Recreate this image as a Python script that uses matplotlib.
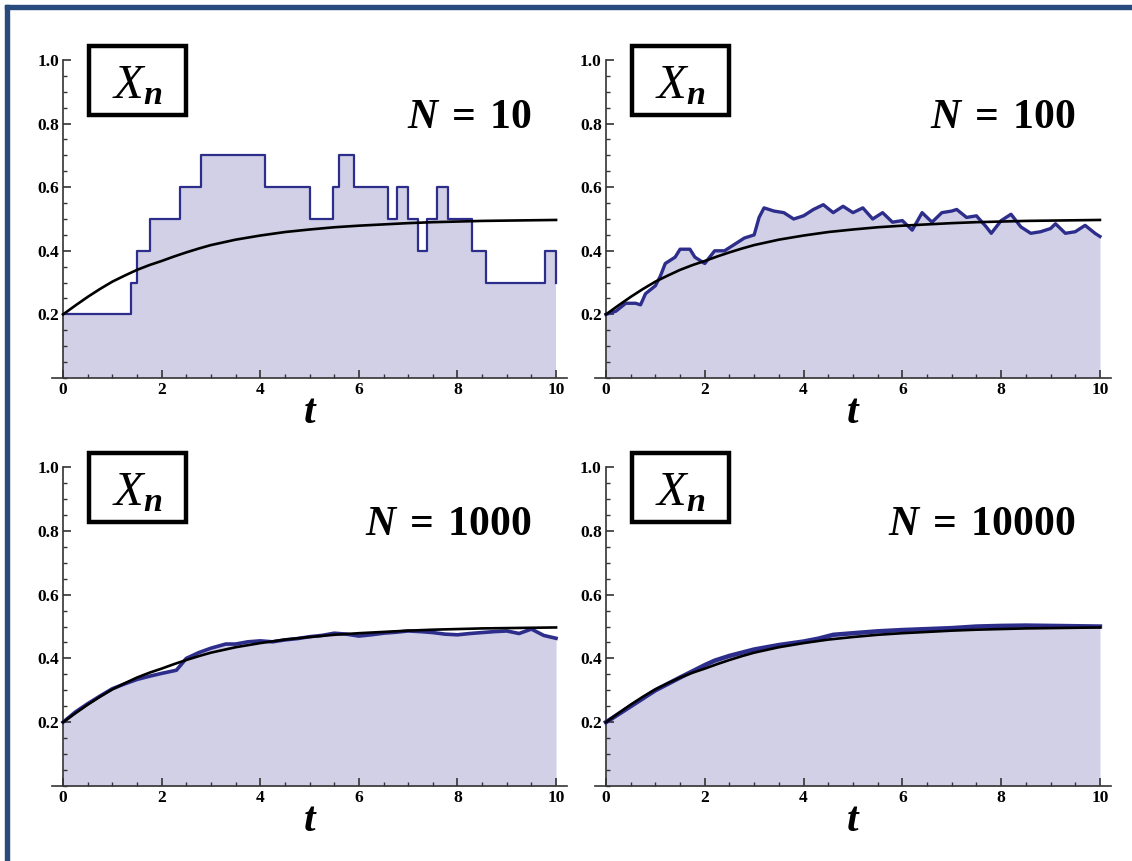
import matplotlib
matplotlib.use('Agg')
import matplotlib.pyplot as plt
import matplotlib.patches as patches
from matplotlib.ticker import MultipleLocator, FixedLocator

plt.rcParams['mathtext.fontset'] = 'custom'
plt.rcParams['mathtext.rm'] = 'Liberation Serif:bold'
plt.rcParams['mathtext.it'] = 'Liberation Serif:italic'
plt.rcParams['mathtext.bf'] = 'Liberation Serif:bold'
plt.rcParams['mathtext.bfit'] = 'Liberation Serif:bold:italic'

# smooth mean curve
curve_t = [0, 0.25, 0.5, 0.75, 1.0, 1.25, 1.5, 1.75, 2.0, 2.25, 2.5, 2.75, 3.0,
           3.5, 4.0, 4.5, 5.0, 5.5, 6.0, 6.5, 7.0, 7.5, 8.0, 8.5, 9.0, 9.5, 10.0]
curve_x = [0.200, 0.228, 0.255, 0.280, 0.303, 0.322, 0.340, 0.355, 0.368, 0.382,
           0.395, 0.407, 0.418, 0.435, 0.448, 0.459, 0.467, 0.474, 0.479, 0.483,
           0.487, 0.490, 0.492, 0.494, 0.495, 0.496, 0.497]

# N = 10: jump times and levels
t10 = [0, 1.38, 1.49, 1.77, 2.38, 2.79, 4.10, 5.00, 5.48, 5.59, 5.90, 6.59,
       6.78, 7.00, 7.20, 7.39, 7.58, 7.80, 8.30, 8.58, 9.78, 10.0]
x10 = [0.2, 0.3, 0.4, 0.5, 0.6, 0.7, 0.6, 0.5, 0.6, 0.7, 0.6, 0.5,
       0.6, 0.5, 0.4, 0.5, 0.6, 0.5, 0.4, 0.3, 0.4, 0.3]

# N = 100
t100 = [0, 0.2, 0.4, 0.6, 0.7, 0.8, 1.0, 1.1, 1.2, 1.4, 1.5, 1.7, 1.8, 2.0,
        2.2, 2.4, 2.6, 2.8, 3.0, 3.1, 3.2, 3.4, 3.6, 3.8, 4.0, 4.2, 4.4, 4.6,
        4.8, 5.0, 5.2, 5.4, 5.6, 5.8, 6.0, 6.2, 6.4, 6.6, 6.8, 7.0, 7.1, 7.3,
        7.5, 7.7, 7.8, 8.0, 8.2, 8.4, 8.6, 8.8, 9.0, 9.1, 9.3, 9.5, 9.7, 9.9, 10.0]
x100 = [0.20, 0.21, 0.235, 0.235, 0.23, 0.265, 0.29, 0.32, 0.36, 0.38, 0.405,
        0.405, 0.38, 0.36, 0.40, 0.40, 0.42, 0.44, 0.45, 0.505, 0.535, 0.525,
        0.52, 0.50, 0.51, 0.53, 0.545, 0.52, 0.54, 0.52, 0.535, 0.50, 0.52,
        0.49, 0.495, 0.465, 0.52, 0.49, 0.52, 0.525, 0.53, 0.505, 0.51, 0.475,
        0.455, 0.495, 0.515, 0.475, 0.455, 0.46, 0.47, 0.485, 0.455, 0.46,
        0.48, 0.455, 0.445]

# N = 1000
t1000 = [0, 0.25, 0.5, 0.75, 1.0, 1.25, 1.5, 1.75, 2.0, 2.3, 2.5, 2.75, 3.0,
         3.3, 3.5, 3.75, 4.0, 4.25, 4.5, 4.75, 5.0, 5.25, 5.5, 5.75, 6.0, 6.25,
         6.5, 6.75, 7.0, 7.25, 7.5, 7.75, 8.0, 8.25, 8.5, 8.75, 9.0, 9.25, 9.5,
         9.75, 10.0]
x1000 = [0.200, 0.232, 0.258, 0.282, 0.305, 0.320, 0.334, 0.344, 0.353, 0.363,
         0.400, 0.418, 0.432, 0.445, 0.445, 0.452, 0.455, 0.452, 0.458, 0.462,
         0.468, 0.472, 0.479, 0.476, 0.470, 0.474, 0.479, 0.482, 0.486, 0.484,
         0.481, 0.476, 0.474, 0.478, 0.481, 0.484, 0.486, 0.478, 0.492, 0.472,
         0.463]

# N = 10000
t10000 = [0, 0.5, 1.0, 1.5, 2.0, 2.2, 2.5, 3.0, 3.5, 4.0, 4.3, 4.6, 5.0, 5.5,
          6.0, 6.5, 7.0, 7.5, 8.0, 8.5, 9.0, 9.5, 10.0]
x10000 = [0.200, 0.250, 0.300, 0.340, 0.379, 0.393, 0.408, 0.428, 0.442, 0.453,
          0.462, 0.474, 0.479, 0.485, 0.489, 0.492, 0.495, 0.500, 0.502, 0.503,
          0.502, 0.501, 0.500]

labels = [r'$\mathbfit{N}\;=\;10$', r'$\mathbfit{N}\;=\;100$',
          r'$\mathbfit{N}\;=\;1000$', r'$\mathbfit{N}\;=\;10000$']

fill_color = '#d1d0e6'
line_color = '#2d2d8c'
axis_color = '#333333'


def draw_panel(ax, t, x, label, step, lw):
    if step:
        ax.fill_between(t, 0, x, step='post', color=fill_color, lw=0)
        ax.plot(t, x, drawstyle='steps-post', color=line_color, lw=lw,
                zorder=3)
    else:
        ax.fill_between(t, 0, x, color=fill_color, lw=0)
        ax.plot(t, x, color=line_color, lw=lw, zorder=3,
                solid_joinstyle='round')
    ax.plot(curve_t, curve_x, color='black', lw=1.9, zorder=4)

    ax.set_xlim(-0.22, 10.22)
    ax.set_ylim(0, 1.0)
    for side in ['top', 'right']:
        ax.spines[side].set_visible(False)
    ax.spines['left'].set_position(('data', 0))
    ax.spines['left'].set_color(axis_color)
    ax.spines['bottom'].set_color(axis_color)
    ax.spines['left'].set_linewidth(1.2)
    ax.spines['bottom'].set_linewidth(1.2)

    ax.xaxis.set_major_locator(FixedLocator([0, 2, 4, 6, 8, 10]))
    ax.xaxis.set_minor_locator(MultipleLocator(0.5))
    ax.yaxis.set_major_locator(FixedLocator([0.2, 0.4, 0.6, 0.8, 1.0]))
    ax.yaxis.set_minor_locator(MultipleLocator(0.05))
    ax.set_xticklabels(['0', '2', '4', '6', '8', '10'])
    ax.set_yticklabels(['0.2', '0.4', '0.6', '0.8', '1.0'])
    ax.tick_params(which='major', direction='in', length=6, width=1.2,
                   color=axis_color, pad=3)
    ax.tick_params(which='minor', direction='in', length=3, width=1.0,
                   color=axis_color)
    for lab in ax.get_xticklabels() + ax.get_yticklabels():
        lab.set_fontfamily('Liberation Serif')
        lab.set_fontweight('bold')
        lab.set_fontsize(12.5)

    box = patches.Rectangle((0.53, 0.827), 1.96, 0.216, fill=True,
                            facecolor='white', edgecolor='black', lw=3.2,
                            clip_on=False, zorder=5)
    ax.add_patch(box)
    ax.text(1.5, 0.88, r'$X_{\mathbfit{n}}$', fontsize=35, ha='center',
            va='baseline', zorder=6)
    ax.text(9.51, 0.787, label, fontsize=30, ha='right', va='baseline',
            zorder=6)
    ax.text(5.0, -0.11, 't', fontsize=30, fontfamily='Liberation Serif',
            fontweight='bold', fontstyle='italic', ha='center', va='center',
            transform=ax.transData, clip_on=False)


fig = plt.figure(figsize=(11.32, 8.61), dpi=100)
W, H = 1132.0, 861.0

# axes boxes in pixels: left, top(y=1.0), bottom(y=0), width
positions = [
    (52.2, 60, 378, 514.7),
    (595.1, 60, 378, 515.7),
    (52.2, 467, 786, 514.7),
    (595.1, 467, 786, 515.7),
]
series = [(t10, x10, True, 1.6), (t100, x100, False, 2.4),
          (t1000, x1000, False, 2.6), (t10000, x10000, False, 3.2)]

for pos, ser, label in zip(positions, series, labels):
    left, top, bottom, width = pos
    ax = fig.add_axes([left / W, 1 - bottom / H, width / W, (bottom - top) / H])
    ax.patch.set_alpha(0)
    draw_panel(ax, ser[0], ser[1], label, ser[2], ser[3])

# dark blue frame at top and left
frame_color = '#284a7c'
fig.patches.append(patches.Rectangle((5 / W, 1 - 9 / H), 1 - 5 / W, 4 / H,
                                     transform=fig.transFigure,
                                     color=frame_color, zorder=10))
fig.patches.append(patches.Rectangle((5 / W, 0), 4 / W, 1 - 5 / H,
                                     transform=fig.transFigure,
                                     color=frame_color, zorder=10))

fig.savefig('out.png', dpi=100)
